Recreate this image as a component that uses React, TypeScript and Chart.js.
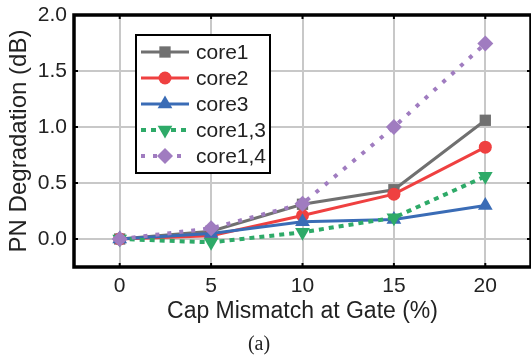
import React, { useEffect, useRef } from 'react';
import { Chart, registerables } from 'chart.js';

Chart.register(...registerables);

const xValues = [0, 5, 10, 15, 20];
const core1 = [0, 0.07, 0.31, 0.44, 1.06];
const core2 = [0, 0.03, 0.21, 0.40, 0.82];
const core3 = [0, 0.05, 0.155, 0.175, 0.30];
const core13 = [0, -0.03, 0.06, 0.19, 0.56];
const core14 = [0, 0.095, 0.315, 1.0, 1.745];
const xTicks = [0, 5, 10, 15, 20];
const yTicks = [0, 0.5, 1.0, 1.5, 2.0];
const seriesNames = ['core1', 'core2', 'core3', 'core1,3', 'core1,4'];

const FONT = "'Liberation Sans', Arial, sans-serif";
const TEXT = '#222222';

type Style = { color: string; marker: string; rotation: number; radius: number; dash: number[]; width: number };
const styles: Style[] = [
  { color: '#707070', marker: 'rect', rotation: 0, radius: 8, dash: [], width: 3 },
  { color: '#ef4040', marker: 'circle', rotation: 0, radius: 6.5, dash: [], width: 3 },
  { color: '#3a6cb6', marker: 'triangle', rotation: 0, radius: 8.5, dash: [], width: 3 },
  { color: '#2eaa68', marker: 'triangle', rotation: 180, radius: 8.5, dash: [5, 5], width: 4 },
  { color: '#a07cc0', marker: 'rectRot', rotation: 0, radius: 8, dash: [4, 8], width: 4 },
];

function drawMarker(ctx: CanvasRenderingContext2D, s: Style, x: number, y: number) {
  const r = s.radius;
  ctx.save();
  ctx.fillStyle = s.color;
  ctx.setLineDash([]);
  ctx.beginPath();
  if (s.marker === 'circle') {
    ctx.arc(x, y, r, 0, Math.PI * 2);
  } else if (s.marker === 'rect') {
    const h = r * Math.SQRT1_2;
    ctx.rect(x - h, y - h, 2 * h, 2 * h);
  } else if (s.marker === 'rectRot') {
    ctx.moveTo(x, y - r);
    ctx.lineTo(x + r, y);
    ctx.lineTo(x, y + r);
    ctx.lineTo(x - r, y);
    ctx.closePath();
  } else {
    const dir = s.rotation === 180 ? -1 : 1;
    const a0 = -Math.PI / 2;
    for (let i = 0; i < 3; i++) {
      const a = a0 + (i * 2 * Math.PI) / 3;
      const px = x + r * Math.cos(a);
      const py = y + dir * r * Math.sin(a);
      if (i === 0) ctx.moveTo(px, py);
      else ctx.lineTo(px, py);
    }
    ctx.closePath();
  }
  ctx.fill();
  ctx.restore();
}

const framePlugin = {
  id: 'frameLegend',
  afterDraw(chart: any) {
    const ctx: CanvasRenderingContext2D = chart.ctx;
    const { left, right, top, bottom } = chart.chartArea;
    const xs = chart.scales.x;
    const ys = chart.scales.y;
    ctx.save();
    ctx.strokeStyle = '#000';
    ctx.lineWidth = 2;
    ctx.beginPath();
    xTicks.forEach((v) => {
      const px = xs.getPixelForValue(v);
      ctx.moveTo(px, top);
      ctx.lineTo(px, top + 4);
      ctx.moveTo(px, bottom);
      ctx.lineTo(px, bottom - 4);
    });
    yTicks.forEach((v) => {
      const py = ys.getPixelForValue(v);
      ctx.moveTo(left, py);
      ctx.lineTo(left + 4, py);
      ctx.moveTo(right, py);
      ctx.lineTo(right - 4, py);
    });
    ctx.stroke();
    ctx.lineWidth = 3.5;
    ctx.strokeRect(left, top, right - left, bottom - top);

    const lx = 136, ly = 35, lw = 134, lh = 138;
    ctx.fillStyle = '#fff';
    ctx.fillRect(lx, ly, lw, lh);
    ctx.lineWidth = 2;
    ctx.strokeStyle = '#000';
    ctx.strokeRect(lx, ly, lw, lh);
    ctx.font = `21px ${FONT}`;
    ctx.textBaseline = 'middle';
    ctx.textAlign = 'left';
    seriesNames.forEach((name, i) => {
      const s = styles[i];
      const y = 52 + i * 26;
      ctx.save();
      ctx.strokeStyle = s.color;
      ctx.lineWidth = s.width;
      ctx.setLineDash(s.dash);
      ctx.beginPath();
      ctx.moveTo(141, y);
      ctx.lineTo(189, y);
      ctx.stroke();
      ctx.restore();
      drawMarker(ctx, s, 165, y);
      ctx.fillStyle = TEXT;
      ctx.fillText(name, 196, y + 1);
    });

    ctx.font = `20px 'Liberation Serif', 'Times New Roman', serif`;
    ctx.textAlign = 'center';
    ctx.fillStyle = TEXT;
    ctx.fillText('(a)', 259, 345);
    ctx.restore();
  },
};

function zeroPad(scale: any) {
  scale.paddingLeft = 0;
  scale.paddingRight = 0;
  scale.paddingTop = 0;
  scale.paddingBottom = 0;
}

export default function App() {
  const ref = useRef<HTMLCanvasElement | null>(null);
  useEffect(() => {
    if (!ref.current) return;
    const seriesData = [core1, core2, core3, core13, core14];
    const datasets = seriesData.map((arr, i) => {
      const s = styles[i];
      return {
        label: seriesNames[i],
        data: xValues.map((x, j) => ({ x, y: arr[j] })),
        borderColor: s.color,
        backgroundColor: s.color,
        borderWidth: s.width,
        borderDash: s.dash,
        pointStyle: s.marker,
        rotation: s.rotation,
        pointRadius: s.radius,
        pointBorderWidth: 0,
        pointBackgroundColor: s.color,
        pointBorderColor: s.color,
        tension: 0,
        order: 5 - i,
        clip: false as any,
      };
    });
    const chart = new Chart(ref.current, {
      type: 'line',
      data: { datasets },
      options: {
        animation: false,
        responsive: false,
        layout: { autoPadding: false, padding: { top: 15, right: 0, bottom: 30, left: 0 } },
        plugins: { legend: { display: false }, tooltip: { enabled: false } },
        scales: {
          x: {
            type: 'linear',
            min: -2.5,
            max: 22.5,
            afterBuildTicks: (scale: any) => {
              scale.ticks = xTicks.map((v) => ({ value: v }));
            },
            afterFit: (scale: any) => {
              scale.height = 59;
              zeroPad(scale);
            },
            grid: { color: '#c8c8c8', lineWidth: 2, drawTicks: false },
            border: { display: false },
            ticks: {
              color: TEXT,
              font: { family: FONT, size: 21 },
              padding: 7,
              callback: (v: any) => String(v),
            },
            title: {
              display: true,
              text: 'Cap Mismatch at Gate (%)',
              color: TEXT,
              font: { family: FONT, size: 23 },
              padding: { top: 0, bottom: 1 },
            },
          },
          y: {
            type: 'linear',
            min: -0.25,
            max: 2.0,
            afterBuildTicks: (scale: any) => {
              scale.ticks = yTicks.map((v) => ({ value: v }));
            },
            afterFit: (scale: any) => {
              scale.width = 74;
              zeroPad(scale);
            },
            grid: { color: '#c8c8c8', lineWidth: 2, drawTicks: false },
            border: { display: false },
            ticks: {
              color: TEXT,
              font: { family: FONT, size: 21 },
              padding: 7,
              callback: (v: any) => Number(v).toFixed(1),
            },
            title: {
              display: true,
              text: 'PN Degradation (dB)',
              color: TEXT,
              font: { family: FONT, size: 24 },
              padding: { top: 5, bottom: 0 },
            },
          },
        },
      },
      plugins: [framePlugin],
    });
    return () => chart.destroy();
  }, []);
  return (
    <div style={{ position: 'absolute', left: 0, top: 0, width: 531, height: 356, background: '#fff' }}>
      <canvas ref={ref} width={531} height={356} style={{ display: 'block' }} />
    </div>
  );
}
